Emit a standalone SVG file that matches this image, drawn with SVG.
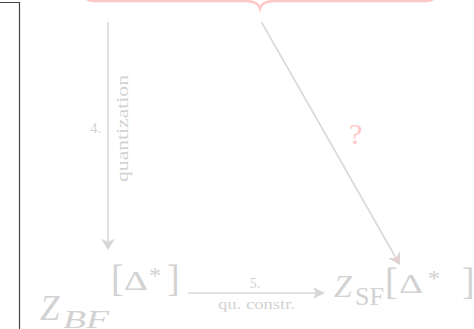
<svg xmlns="http://www.w3.org/2000/svg" width="474" height="329" viewBox="0 0 474 329">
<style>
.t{font-family:"Liberation Serif","Times New Roman",serif;fill:#d2d2d2}
.i{font-style:italic}
.ln{stroke:#d9d9d9;stroke-width:1.6;fill:none}
.hd{fill:#d6d6d6;stroke:none}
</style>
<rect width="474" height="329" fill="#fff"/>
<path d="M0,2.5 H19.5 V329" fill="none" stroke="#444" stroke-width="1.2"/>
<g id="brace">
<path d="M83,-10 Q83,1 94,1 L246,1 Q258,1 260,8.5 Q262,1 274,1 L426,1 Q437,1 437,-10" fill="none" stroke="#ffc8c8" stroke-width="2.4"/>
</g>
<g id="connectors">
<g id="e4">
<line class="ln" x1="108" y1="22" x2="108" y2="243"/>
<path class="hd" d="M101,238.5 L108,250 L115,238.5 L108,242 Z"/>
<text class="t" x="90" y="133" font-size="15">4.</text>
<text class="t" transform="translate(127.5,182) rotate(-90)" font-size="16" textLength="107" lengthAdjust="spacingAndGlyphs">quantization</text>
</g>
<g id="eq">
<line class="ln" x1="261.5" y1="22" x2="396" y2="258"/>
<path class="hd" d="M400,265 L400.1,251.1 L396,258 L388,258 Z"/>
<path d="M398.5,261.5 L398.3,255 L396,258.5 L392,258.8 Z" fill="#f4c8c8"/>
<text class="t" x="349" y="144" font-size="30" style="fill:#ffc6c6">?</text>
</g>
<g id="e5">
<line class="ln" x1="188" y1="293" x2="316" y2="293"/>
<path class="hd" d="M325,293 L313,287.2 L316,293 L313,298.8 Z"/>
<text class="t" x="255" y="288" font-size="14" text-anchor="middle">5.</text>
<text class="t" x="218" y="309" font-size="15" textLength="77" lengthAdjust="spacingAndGlyphs">qu. constr.</text>
</g>
</g>
<g id="ZBF">
<text class="t i" x="40" y="320" font-size="35">Z</text>
<text class="t i" x="63" y="328" font-size="25" textLength="46" lengthAdjust="spacingAndGlyphs">BF</text>
<text class="t" x="111" y="291" font-size="38">[</text>
<text class="t" x="124" y="290" font-size="28" textLength="24" lengthAdjust="spacingAndGlyphs">Δ</text>
<text class="t" x="149" y="283" font-size="24">*</text>
<text class="t" x="167" y="291" font-size="38">]</text>
</g>
<g id="ZSF">
<text class="t i" x="334" y="297" font-size="32">Z</text>
<text class="t" x="355" y="305" font-size="26">SF</text>
<text class="t" x="385" y="294" font-size="38">[</text>
<text class="t" x="399" y="293" font-size="28" textLength="24" lengthAdjust="spacingAndGlyphs">Δ</text>
<text class="t" x="428" y="286" font-size="24">*</text>
<text class="t" x="462" y="294" font-size="38">]</text>
</g>
</svg>
